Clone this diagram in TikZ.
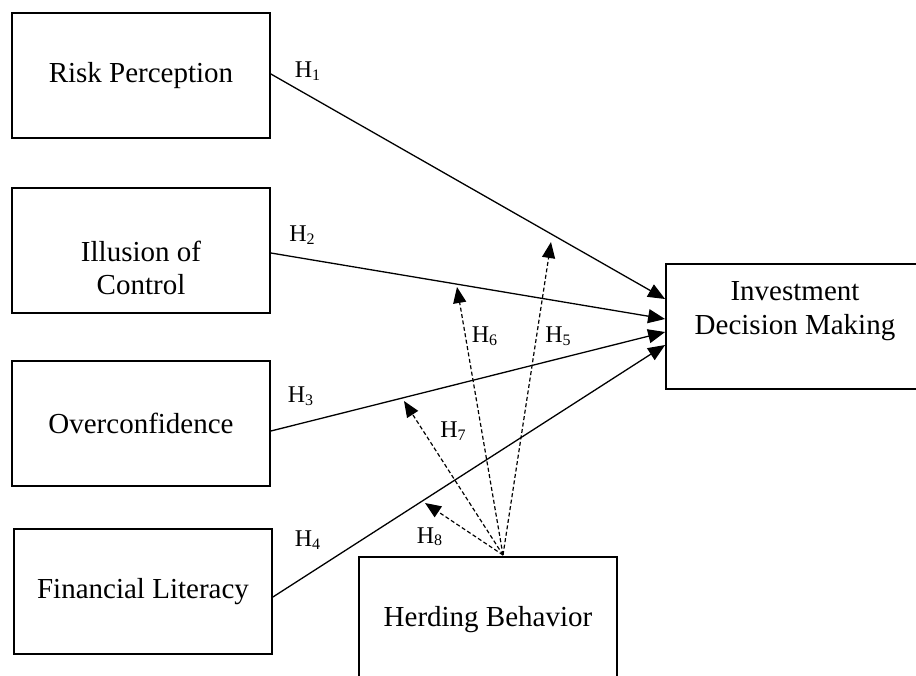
\documentclass[tikz,border=0pt]{standalone}
\usepackage{fontspec}
\setmainfont{Liberation Serif}
\usetikzlibrary{arrows.meta}
\newcommand{\hyp}[1]{H\raisebox{-2.5pt}{\fontsize{16}{16}\selectfont #1}}
\begin{document}
\begin{tikzpicture}[x=1pt,y=-1pt,
 box/.style={draw, line width=1.8pt, minimum width=258pt, minimum height=125pt, inner sep=0pt, font=\fontsize{29}{33.5}\selectfont, align=center},
 txt/.style={font=\fontsize{29}{33.5}\selectfont, align=center, inner sep=0pt},
 hlab/.style={font=\fontsize{24}{26}\selectfont, inner sep=0pt},
 link/.style={line width=1.3pt, -{Triangle[length=17pt,width=14pt]}},
 mod/.style={line width=1.2pt, dash pattern=on 4pt off 2.5pt, -{Triangle[length=16pt,width=13pt]}}]
\useasboundingbox (0,0) rectangle (916,675);
\clip (0,0) rectangle (916,675);
\fill[white] (0,0) rectangle (916,675);
% boxes
\node[box] (rp) at (141,75.5) {Risk Perception};
\node[box] (ic) at (141,250.5) {};
\node[txt] (ict) at (141,268) {Illusion of\\Control};
\node[box] (oc) at (141,423.5) {Overconfidence};
\node[box] (fl) at (143,591.5) {Financial Literacy};
\node[box] (hb) at (488,619.5) {Herding Behavior};
\node[box] (idm) at (795,326.5) {};
\node[txt] (idmt) at (795,311) {Investment\\Decision Making};
% direct paths
\draw[link] ([yshift=1.5pt]rp.east) -- ([yshift=27.5pt]idm.west);
\draw[link] ([yshift=-2.5pt]ic.east) -- ([yshift=7.5pt]idm.west);
\draw[link] ([yshift=-7.5pt]oc.east) -- ([yshift=-5.5pt]idm.west);
\draw[link] ([yshift=-5.5pt]fl.east) -- ([yshift=-18.5pt]idm.west);
% moderation
\coordinate (hbt) at (503,555);
\coordinate (m5) at (551,242);
\coordinate (m6) at (457,287);
\coordinate (m7) at (404,401);
\coordinate (m8) at (425,503);
\draw[mod] (hbt) -- (m5);
\draw[mod] (hbt) -- (m6);
\draw[mod] (hbt) -- (m7);
\draw[mod] (hbt) -- (m8);
% labels
\node[hlab] (h1) at (307.5,71) {\hyp{1}};
\node[hlab] (h2) at (302,235) {\hyp{2}};
\node[hlab] (h3) at (300.5,396) {\hyp{3}};
\node[hlab] (h4) at (307.5,540) {\hyp{4}};
\node[hlab] (h5) at (558,336) {\hyp{5}};
\node[hlab] (h6) at (484.5,336) {\hyp{6}};
\node[hlab] (h7) at (453,431) {\hyp{7}};
\node[hlab] (h8) at (429.5,536.5) {\hyp{8}};
\end{tikzpicture}
\end{document}
